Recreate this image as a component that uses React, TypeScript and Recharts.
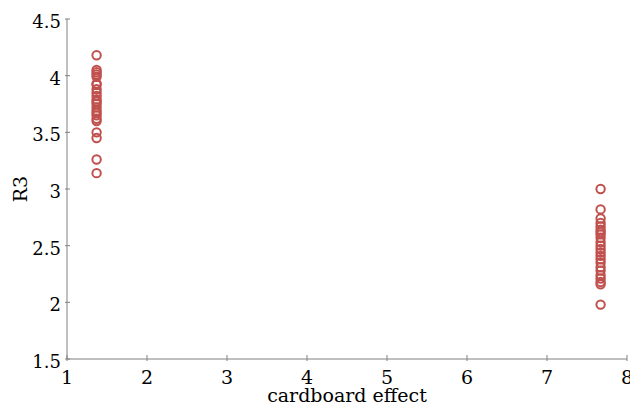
import React from "react";
import { ScatterChart, Scatter, XAxis, YAxis, Label } from "recharts";

// x positions of the two groups
const groupX = [1.37, 7.67];

// R3 values, one list per group
const leftR3 = [
  4.18, 4.05, 4.03, 4.01, 3.99, 3.93, 3.92, 3.88, 3.85, 3.82, 3.79, 3.77,
  3.75, 3.72, 3.69, 3.67, 3.65, 3.62, 3.6, 3.5, 3.45, 3.26, 3.14,
];
const rightR3 = [
  3.0, 2.82, 2.74, 2.7, 2.67, 2.64, 2.62, 2.6, 2.57, 2.53, 2.5, 2.47, 2.44,
  2.41, 2.38, 2.35, 2.31, 2.28, 2.24, 2.21, 2.18, 2.16, 1.98,
];

const xTicks = [1, 2, 3, 4, 5, 6, 7, 8];
const yTicks = [1.5, 2, 2.5, 3, 3.5, 4, 4.5];

const points = [
  ...leftR3.map((y) => ({ x: groupX[0], y })),
  ...rightR3.map((y) => ({ x: groupX[1], y })),
];

const FONT = "'DejaVu Serif', serif";
const AXIS = "#808080";
const MARK = "#c0504d";

const XTick = (props: any) => {
  const { x, y, payload } = props;
  return (
    <g>
      <line x1={x} x2={x} y1={y} y2={y - 6} stroke={AXIS} strokeWidth={1} />
      <text x={x} y={y + 23} textAnchor="middle" fontFamily={FONT} fontSize={19} fill="#000">
        {payload.value}
      </text>
    </g>
  );
};

const YTick = (props: any) => {
  const { x, y, payload } = props;
  return (
    <g>
      <line x1={x} x2={x + 5} y1={y} y2={y} stroke={AXIS} strokeWidth={1} />
      <text x={x - 4} y={y + 9} textAnchor="end" fontFamily={FONT} fontSize={18} fill="#000">
        {payload.value}
      </text>
    </g>
  );
};

const Ring = (props: any) => (
  <circle cx={props.cx} cy={props.cy} r={4.2} fill="none" stroke={MARK} strokeWidth={2} />
);

export default function App() {
  return (
    <div style={{ position: "absolute", left: 0, top: 0, background: "#fff" }}>
      <ScatterChart width={630} height={405} margin={{ top: 19, right: 3, left: 0, bottom: 0 }}>
        <XAxis
          type="number"
          dataKey="x"
          domain={[1, 8]}
          ticks={xTicks}
          height={46}
          tickSize={0}
          tickLine={false}
          axisLine={{ stroke: AXIS }}
          tick={<XTick />}
          interval={0}
        >
          <Label
            value="cardboard effect"
            position="insideBottom"
            offset={3}
            style={{ fontFamily: FONT, fontSize: 19, fill: "#000" }}
          />
        </XAxis>
        <YAxis
          type="number"
          dataKey="y"
          domain={[1.5, 4.5]}
          ticks={yTicks}
          width={67}
          tickSize={0}
          tickLine={false}
          axisLine={{ stroke: AXIS }}
          tick={<YTick />}
          interval={0}
        >
          <Label
            content={(p: any) => {
              const vb = p.viewBox;
              const cx = 27;
              const cy = vb.y + vb.height / 2;
              return (
                <text
                  x={cx}
                  y={cy}
                  transform={`rotate(-90 ${cx} ${cy})`}
                  textAnchor="middle"
                  fontFamily={FONT}
                  fontSize={19}
                  fill="#000"
                >
                  R3
                </text>
              );
            }}
          />
        </YAxis>
        <Scatter data={points} shape={<Ring />} isAnimationActive={false} />
      </ScatterChart>
    </div>
  );
}
